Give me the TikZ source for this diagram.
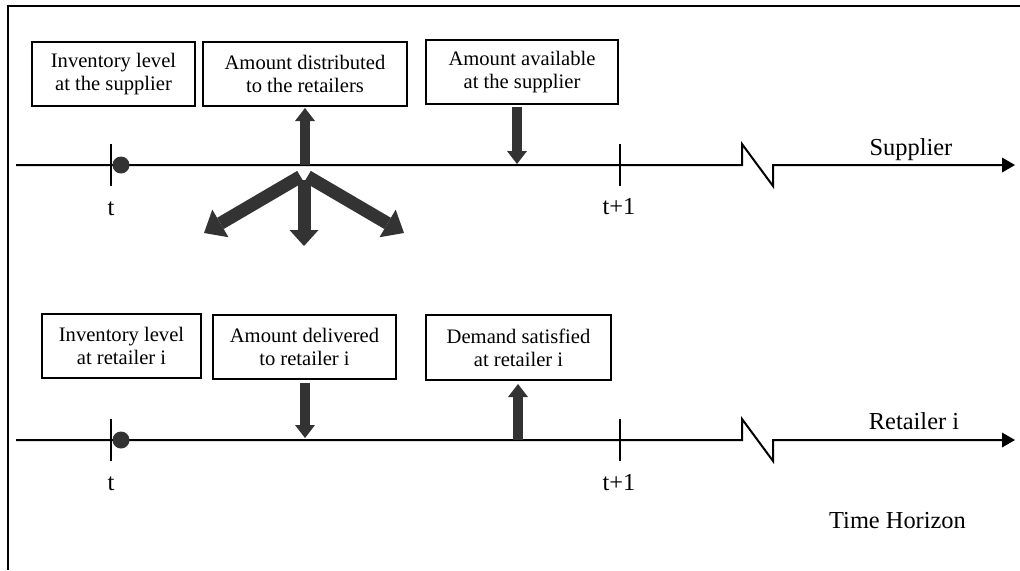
\documentclass[tikz,border=0pt]{standalone}
\usepackage{fontspec}
\setmainfont{Liberation Serif}
\usetikzlibrary{arrows.meta}
\definecolor{arrowgray}{HTML}{333333}

\begin{document}
\begin{tikzpicture}[x=0.5pt,y=-0.5pt,
  rule/.style={line width=1pt},
  axis/.style={line width=1pt, line join=miter,
    -{Triangle[length=6.5pt,width=7.5pt,line width=0pt]}},
  infobox/.style={draw, line width=1pt, align=center, inner sep=0pt,
    font=\fontsize{10.3}{11.5}\selectfont},
  lbl/.style={anchor=base, inner sep=0pt, font=\fontsize{12.2}{14}\selectfont},
  fatarrow/.style={draw=arrowgray, line width=5pt,
    -{Triangle[length=6.5pt,width=10pt,line width=0pt]}},
  splitarrow/.style={draw=arrowgray, line width=6.5pt,
    -{Triangle[length=8pt,width=14.5pt,line width=0pt]}},
  sidearrow/.style={splitarrow,
    -{Triangle[length=9.5pt,width=16pt,line width=0pt]}},
  dot/.style={circle, fill=arrowgray, inner sep=0pt, minimum size=8.5pt}
]
\useasboundingbox (0,0) rectangle (1020,570);

% outer frame (top and left edges)
\draw[rule] (8,570) -- (8,6) -- (1020,6);

% ---------------- supplier time line ----------------
\coordinate (sStart) at (16,165);
\coordinate (sBreakA) at (742,165);
\coordinate (sBreakB) at (742,144);
\coordinate (sBreakC) at (773,186);
\coordinate (sBreakD) at (773,165);
\coordinate (sEnd) at (1015,165);
\draw[axis] (sStart) -- (sBreakA) -- (sBreakB) -- (sBreakC) -- (sBreakD) -- (sEnd);

\coordinate (sT0) at (111,165);
\coordinate (sT1) at (620,165);
\draw[rule] ([yshift=10.5pt]sT0) -- ([yshift=-10.5pt]sT0);
\draw[rule] ([yshift=10.5pt]sT1) -- ([yshift=-10.5pt]sT1);
\node[dot] (sDot) at (121,165) {};
\node[lbl] (sLblT0) at (111,215) {t};
\node[lbl] (sLblT1) at (619,214) {t+1};
\node[lbl] (sName) at (911,155) {Supplier};

\node[infobox, minimum width=81.5pt, minimum height=32pt] (invS) at (113.5,74)
  {Inventory level\\at the supplier};
\node[infobox, minimum width=102pt, minimum height=32pt] (dist) at (305,74)
  {Amount distributed\\to the retailers};
\node[infobox, minimum width=96pt, minimum height=32pt] (avail) at (522,72)
  {Amount available\\at the supplier};

% distribution out of the supplier
\coordinate (distFoot) at (305,165);
\draw[fatarrow] (distFoot) -- ([yshift=-0.5pt]dist.south);
\coordinate (availFoot) at (517,164);
\draw[fatarrow] ([yshift=-1pt]availFoot |- avail.south) -- (availFoot);

\coordinate (hubL) at (300.5,176.5);
\coordinate (hubM) at (304,180);
\coordinate (hubR) at (307.5,176.5);
\coordinate (tipL) at (204,233);
\coordinate (tipM) at (304,246);
\coordinate (tipR) at (404,233);
\draw[splitarrow] (hubM) -- (tipM);
\draw[sidearrow] (hubL) -- (tipL);
\draw[sidearrow] (hubR) -- (tipR);

% ---------------- retailer time line ----------------
\coordinate (rStart) at (16,440);
\coordinate (rBreakA) at (742,440);
\coordinate (rBreakB) at (742,419);
\coordinate (rBreakC) at (773,461);
\coordinate (rBreakD) at (773,440);
\coordinate (rEnd) at (1015,440);
\draw[axis] (rStart) -- (rBreakA) -- (rBreakB) -- (rBreakC) -- (rBreakD) -- (rEnd);

\coordinate (rT0) at (111,440);
\coordinate (rT1) at (620,440);
\draw[rule] ([yshift=10.5pt]rT0) -- ([yshift=-10.5pt]rT0);
\draw[rule] ([yshift=10.5pt]rT1) -- ([yshift=-10.5pt]rT1);
\node[dot] (rDot) at (121,440) {};
\node[lbl] (rLblT0) at (111,490) {t};
\node[lbl] (rLblT1) at (619,490) {t+1};
\node[lbl] (rName) at (914,429) {Retailer i};
\node[lbl] (horizon) at (897.5,528) {Time Horizon};

\node[infobox, minimum width=79.5pt, minimum height=32pt] (invR) at (121.5,346)
  {Inventory level\\at retailer i};
\node[infobox, minimum width=91.5pt, minimum height=32pt] (deliv) at (304.5,347)
  {Amount delivered\\to retailer i};
\node[infobox, minimum width=92.5pt, minimum height=32.5pt] (dem) at (518.5,347.5)
  {Demand satisfied\\at retailer i};

\coordinate (delivFoot) at (305,438);
\draw[fatarrow] ([yshift=-1.5pt]delivFoot |- deliv.south) -- (delivFoot);
\coordinate (demFoot) at (518,440);
\draw[fatarrow] (demFoot) -- ([yshift=-1.5pt]demFoot |- dem.south);
\end{tikzpicture}
\end{document}
